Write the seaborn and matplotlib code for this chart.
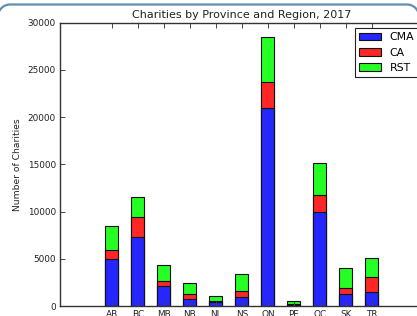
import matplotlib
matplotlib.use("Agg")
import numpy as np
import matplotlib.pyplot as plt
import seaborn as sns
from matplotlib.patches import Patch
from matplotlib.lines import Line2D

provinces = ["AB", "BC", "MB", "NB", "NL", "NS", "ON", "PE", "QC", "SK", "TR"]
cma = [4950, 7300, 2100, 700, 380, 950, 20900, 120, 9950, 1270, 1450]
ca = [950, 2100, 500, 600, 170, 600, 2850, 130, 1800, 630, 1600]
rst = [2600, 2150, 1750, 1100, 550, 1850, 4750, 230, 3350, 2120, 2000]
series_names = ["CMA", "CA", "RST"]
yticks = [0, 5000, 10000, 15000, 20000, 25000, 30000]

colors = {"CMA": "#2626ff", "CA": "#ff2626", "RST": "#26ff26"}

plt.rcParams["font.family"] = ["DejaVu Sans"]

W, H = 417, 316
fig = plt.figure(figsize=(W / 100, H / 100), dpi=100)
fig.patch.set_facecolor("white")

# axes placed in pixel terms: left 60, top 22.5, bottom 306, 26 px per category
left, top, bottom = 60, 22.5, 306
width = 14 * 26
ax = fig.add_axes([left / W, 1 - bottom / H, width / W, (bottom - top) / H])

lvl2 = [a + b for a, b in zip(cma, ca)]
lvl3 = [a + b for a, b in zip(lvl2, rst)]

common = dict(width=0.5, edgecolor="#111111", linewidth=0.8, saturation=1, ax=ax)
sns.barplot(x=provinces, y=lvl3, color=colors["RST"], **common)
sns.barplot(x=provinces, y=lvl2, color=colors["CA"], **common)
sns.barplot(x=provinces, y=cma, color=colors["CMA"], **common)

ax.set_xlim(-2, 12)
ax.set_ylim(0, 30000)
ax.set_yticks(yticks)
ax.set_yticklabels([str(v) for v in yticks])
ax.set_xticks(range(len(provinces)))
ax.set_xticklabels(provinces)

for s in ax.spines.values():
    s.set_color("#333333")
    s.set_linewidth(1.0)

ax.tick_params(axis="both", direction="in", top=True, right=True,
               length=3.5, width=0.7, color="#444444",
               labelsize=6.4, labelcolor="#222222")
ax.tick_params(axis="x", pad=3)
ax.tick_params(axis="y", pad=3)

ax.set_ylabel("Number of Charities", fontsize=6.6, color="#222222", labelpad=4)
ax.set_xlabel("")
ax.set_title("Charities by Province and Region, 2017", fontsize=8, color="#222222", pad=3)

handles = [Patch(facecolor=colors[n], edgecolor="#111111", linewidth=0.8, label=n)
           for n in series_names]
leg = ax.legend(handles=handles, loc="upper right", fontsize=7.8, frameon=True,
                fancybox=False, edgecolor="#222222", framealpha=1,
                borderaxespad=0.5, handlelength=2.0, handleheight=0.7)
leg.get_frame().set_linewidth(0.8)

# notebook-style rounded frame: top edge with rounded corners, sides just outside
r = 12.0
ytop = 4.5
lx, rx = -2.0, W + 2.0
t1 = np.linspace(np.pi, np.pi / 2, 20)
t2 = np.linspace(np.pi / 2, 0, 20)
xs = np.concatenate([[lx], lx + r + r * np.cos(t1), rx - r + r * np.cos(t2), [rx]])
ys = np.concatenate([[H + 10], ytop + r - r * np.sin(t1), ytop + r - r * np.sin(t2), [H + 10]])
frame = Line2D(xs / W, 1 - ys / H, transform=fig.transFigure, color="#5f8db3",
               linewidth=1.6, solid_capstyle="round")
fig.lines.append(frame)

fig.savefig("out.png", dpi=100)
